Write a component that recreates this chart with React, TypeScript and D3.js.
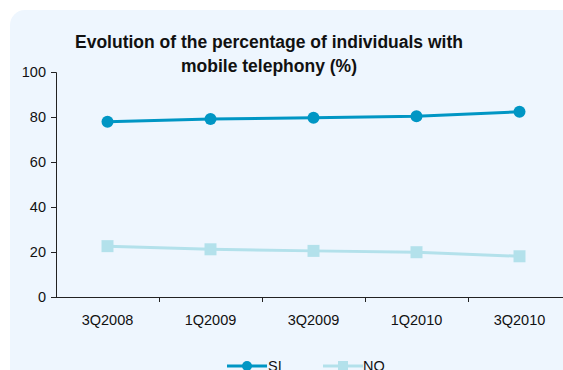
import React, { useEffect, useRef } from 'react';
import * as d3 from 'd3';

const categories = ['3Q2008', '1Q2009', '3Q2009', '1Q2010', '3Q2010'];
const siValues = [77.9, 79.1, 79.7, 80.3, 82.3];
const noValues = [22.6, 21.2, 20.5, 19.9, 18.1];
const yTicks = [0, 20, 40, 60, 80, 100];

const SI_COLOR = '#0096C4';
const NO_COLOR = '#B3E1EB';

const App: React.FC = () => {
  const svgRef = useRef<SVGSVGElement>(null);

  useEffect(() => {
    if (!svgRef.current) return;
    const width = 563;
    const height = 370;
    const svg = d3.select(svgRef.current);
    svg.selectAll('*').remove();

    // panel background
    svg.append('rect').attr('width', width).attr('height', height).attr('fill', '#ffffff');
    svg.append('rect')
      .attr('x', 10).attr('y', 10)
      .attr('width', width + 20).attr('height', height + 20)
      .attr('rx', 15)
      .attr('fill', '#EEF6FE');

    const font = 'Arial, "Liberation Sans", sans-serif';
    const labelSize = 14.5;

    // title
    const title = svg.append('text')
      .attr('text-anchor', 'middle')
      .attr('font-family', font)
      .attr('font-weight', 'bold')
      .attr('font-size', 17.5)
      .attr('fill', '#111');
    title.append('tspan').attr('x', 269).attr('y', 48).text('Evolution of the percentage of individuals with');
    title.append('tspan').attr('x', 269).attr('y', 72).text('mobile telephony (%)');

    const x = d3.scaleBand<string>()
      .domain(categories)
      .range([56, 571])
      .padding(0);

    const y = d3.scaleLinear().domain([0, 100]).range([297, 72]);

    // y axis
    const yAxis = svg.append('g')
      .attr('transform', 'translate(56,0)')
      .call(d3.axisLeft(y).tickValues(yTicks).tickSize(5).tickPadding(5));
    yAxis.select('.domain').attr('stroke', '#222').attr('d', `M-5,72.5H0.5V297.5`);
    yAxis.selectAll('.tick line').attr('stroke', '#222');
    yAxis.selectAll('.tick text')
      .attr('font-family', font).attr('font-size', labelSize).attr('fill', '#111');

    // x axis
    const xAxis = svg.append('g').attr('transform', 'translate(0,297)');
    xAxis.append('line')
      .attr('x1', 56).attr('x2', width).attr('y1', 0.5).attr('y2', 0.5)
      .attr('stroke', '#222');
    xAxis.selectAll('line.tk')
      .data(categories.slice(1))
      .join('line')
      .attr('class', 'tk')
      .attr('x1', d => Math.round(x(d) || 0) + 0.5)
      .attr('x2', d => Math.round(x(d) || 0) + 0.5)
      .attr('y1', 0).attr('y2', 5)
      .attr('stroke', '#222');
    xAxis.selectAll('text')
      .data(categories)
      .join('text')
      .attr('x', d => (x(d) || 0) + x.bandwidth() / 2)
      .attr('y', 28)
      .attr('text-anchor', 'middle')
      .attr('font-family', font).attr('font-size', labelSize).attr('fill', '#111')
      .text(d => d);

    const cx = (i: number) => (x(categories[i]) || 0) + x.bandwidth() / 2;
    const line = d3.line<number>().x((d, i) => cx(i)).y(d => y(d));

    // NO series
    svg.append('path')
      .datum(noValues)
      .attr('d', line)
      .attr('fill', 'none')
      .attr('stroke', NO_COLOR)
      .attr('stroke-width', 3);
    svg.selectAll('rect.no')
      .data(noValues)
      .join('rect')
      .attr('class', 'no')
      .attr('x', (d, i) => cx(i) - 6)
      .attr('y', d => y(d) - 6)
      .attr('width', 12).attr('height', 12)
      .attr('fill', NO_COLOR);

    // SI series
    svg.append('path')
      .datum(siValues)
      .attr('d', line)
      .attr('fill', 'none')
      .attr('stroke', SI_COLOR)
      .attr('stroke-width', 3);
    svg.selectAll('circle.si')
      .data(siValues)
      .join('circle')
      .attr('class', 'si')
      .attr('cx', (d, i) => cx(i))
      .attr('cy', d => y(d))
      .attr('r', 6)
      .attr('fill', SI_COLOR);

    // legend (clipped by the bottom edge, as in the source)
    const legend = svg.append('g').attr('transform', 'translate(0,366)');
    legend.append('line').attr('x1', 227).attr('x2', 267).attr('y1', 0).attr('y2', 0)
      .attr('stroke', SI_COLOR).attr('stroke-width', 3);
    legend.append('circle').attr('cx', 247).attr('cy', 0).attr('r', 5).attr('fill', SI_COLOR);
    legend.append('text').attr('x', 268).attr('y', 5)
      .attr('font-family', font).attr('font-size', labelSize).attr('fill', '#111').text('SI');
    legend.append('line').attr('x1', 323).attr('x2', 363).attr('y1', 0).attr('y2', 0)
      .attr('stroke', NO_COLOR).attr('stroke-width', 3);
    legend.append('rect').attr('x', 338).attr('y', -5).attr('width', 10).attr('height', 10).attr('fill', NO_COLOR);
    legend.append('text').attr('x', 363).attr('y', 5)
      .attr('font-family', font).attr('font-size', labelSize).attr('fill', '#111').text('NO');
  }, []);

  return (
    <svg
      ref={svgRef}
      width={563}
      height={370}
      style={{ position: 'fixed', left: 0, top: 0, display: 'block' }}
    />
  );
};

export default App;
